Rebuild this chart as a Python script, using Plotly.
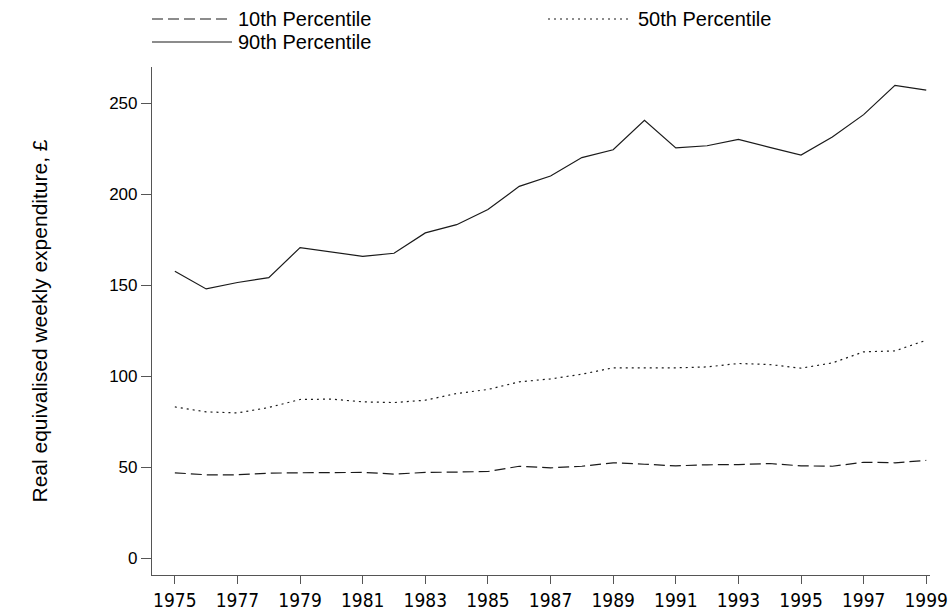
import plotly.graph_objects as go

years = list(range(1975, 2000))
p10 = [46.9, 45.8, 45.8, 46.7, 46.9, 46.9, 47.1, 46.2, 47.1, 47.3, 47.6, 50.5, 49.6,
       50.5, 52.4, 51.6, 50.7, 51.3, 51.4, 52.0, 50.7, 50.5, 52.7, 52.4, 53.7]
p50 = [83.1, 80.4, 79.8, 82.8, 87.2, 87.4, 85.9, 85.5, 86.8, 90.5, 92.7, 96.9, 98.5,
       101.1, 104.6, 104.6, 104.6, 105.1, 107.0, 106.4, 104.4, 107.3, 113.4, 113.9, 119.8]
p90 = [157.7, 148.0, 151.5, 154.2, 170.7, 168.3, 165.9, 167.6, 178.8, 183.3, 191.6, 204.4, 210.1,
       220.2, 224.5, 240.7, 225.5, 226.7, 230.2, 225.8, 221.6, 231.5, 243.8, 259.9, 257.3]
names = ["10th Percentile", "50th Percentile", "90th Percentile"]
dashes = ["11px,5px", "2px,4px", "solid"]
xticks = list(range(1975, 2000, 2))
yticks = [0, 50, 100, 150, 200, 250]

FONT = "Liberation Sans, Arial, sans-serif"
NARROW = "Liberation Sans Narrow, Arial Narrow, DejaVu Sans Condensed, Liberation Sans, sans-serif"
LC = "#1a1a1a"

fig = go.Figure()
for name, vals, dash in zip(names, [p10, p50, p90], dashes):
    fig.add_trace(go.Scatter(x=years, y=vals, mode="lines", name=name,
                             line=dict(color=LC, width=1.2, dash=dash),
                             showlegend=False))

W, H = 948, 610
ml, mr, mt, mb = 152, 18, 67, 35
pw, ph = W - ml - mr, H - mt - mb

def px(x):
    return (x - ml) / pw

def py(y):
    return (H - mb - y) / ph

# manual legend (two columns)
legend_items = [
    (names[0], dashes[0], 152, 232, 19),
    (names[1], dashes[1], 548, 632, 19),
    (names[2], dashes[2], 152, 232, 42),
]
for name, dash, x0, x1, yy in legend_items:
    fig.add_shape(type="line", xref="paper", yref="paper",
                  x0=px(x0), x1=px(x1), y0=py(yy), y1=py(yy),
                  line=dict(color=LC, width=1.2, dash=dash))
    fig.add_annotation(xref="paper", yref="paper", x=px(x1 + 4), y=py(yy),
                       text=name, showarrow=False, xanchor="left", yanchor="middle",
                       font=dict(family=FONT, size=20, color="#000"))

fig.update_layout(
    width=W, height=H,
    margin=dict(l=ml, r=mr, t=mt, b=mb),
    paper_bgcolor="white", plot_bgcolor="white",
    font=dict(family=FONT, size=16, color="#000"),
    showlegend=False,
)
fig.update_xaxes(range=[1974.27, 1999.12], tickvals=xticks, ticktext=[str(t) for t in xticks],
                 showgrid=False, zeroline=False, showline=True, linecolor="#555", linewidth=1.2,
                 ticks="outside", ticklen=8, tickcolor="#555", tickwidth=1.2,
                 tickfont=dict(family=NARROW, size=19), automargin=False)
fig.update_yaxes(range=[-9.3, 270], tickvals=yticks, ticktext=[str(t) for t in yticks],
                 showgrid=False, zeroline=False, showline=True, linecolor="#555", linewidth=1.2,
                 ticks="outside", ticklen=10, tickcolor="#555", tickwidth=1.2,
                 tickfont=dict(family=FONT, size=17), automargin=False,
                 title=dict(text="Real equivalised weekly expenditure, £", standoff=55,
                            font=dict(family=FONT, size=21)))

fig.write_html("out.html", config={"displayModeBar": False},
               post_script="document.body.style.margin='0';document.body.style.overflow='hidden';")
